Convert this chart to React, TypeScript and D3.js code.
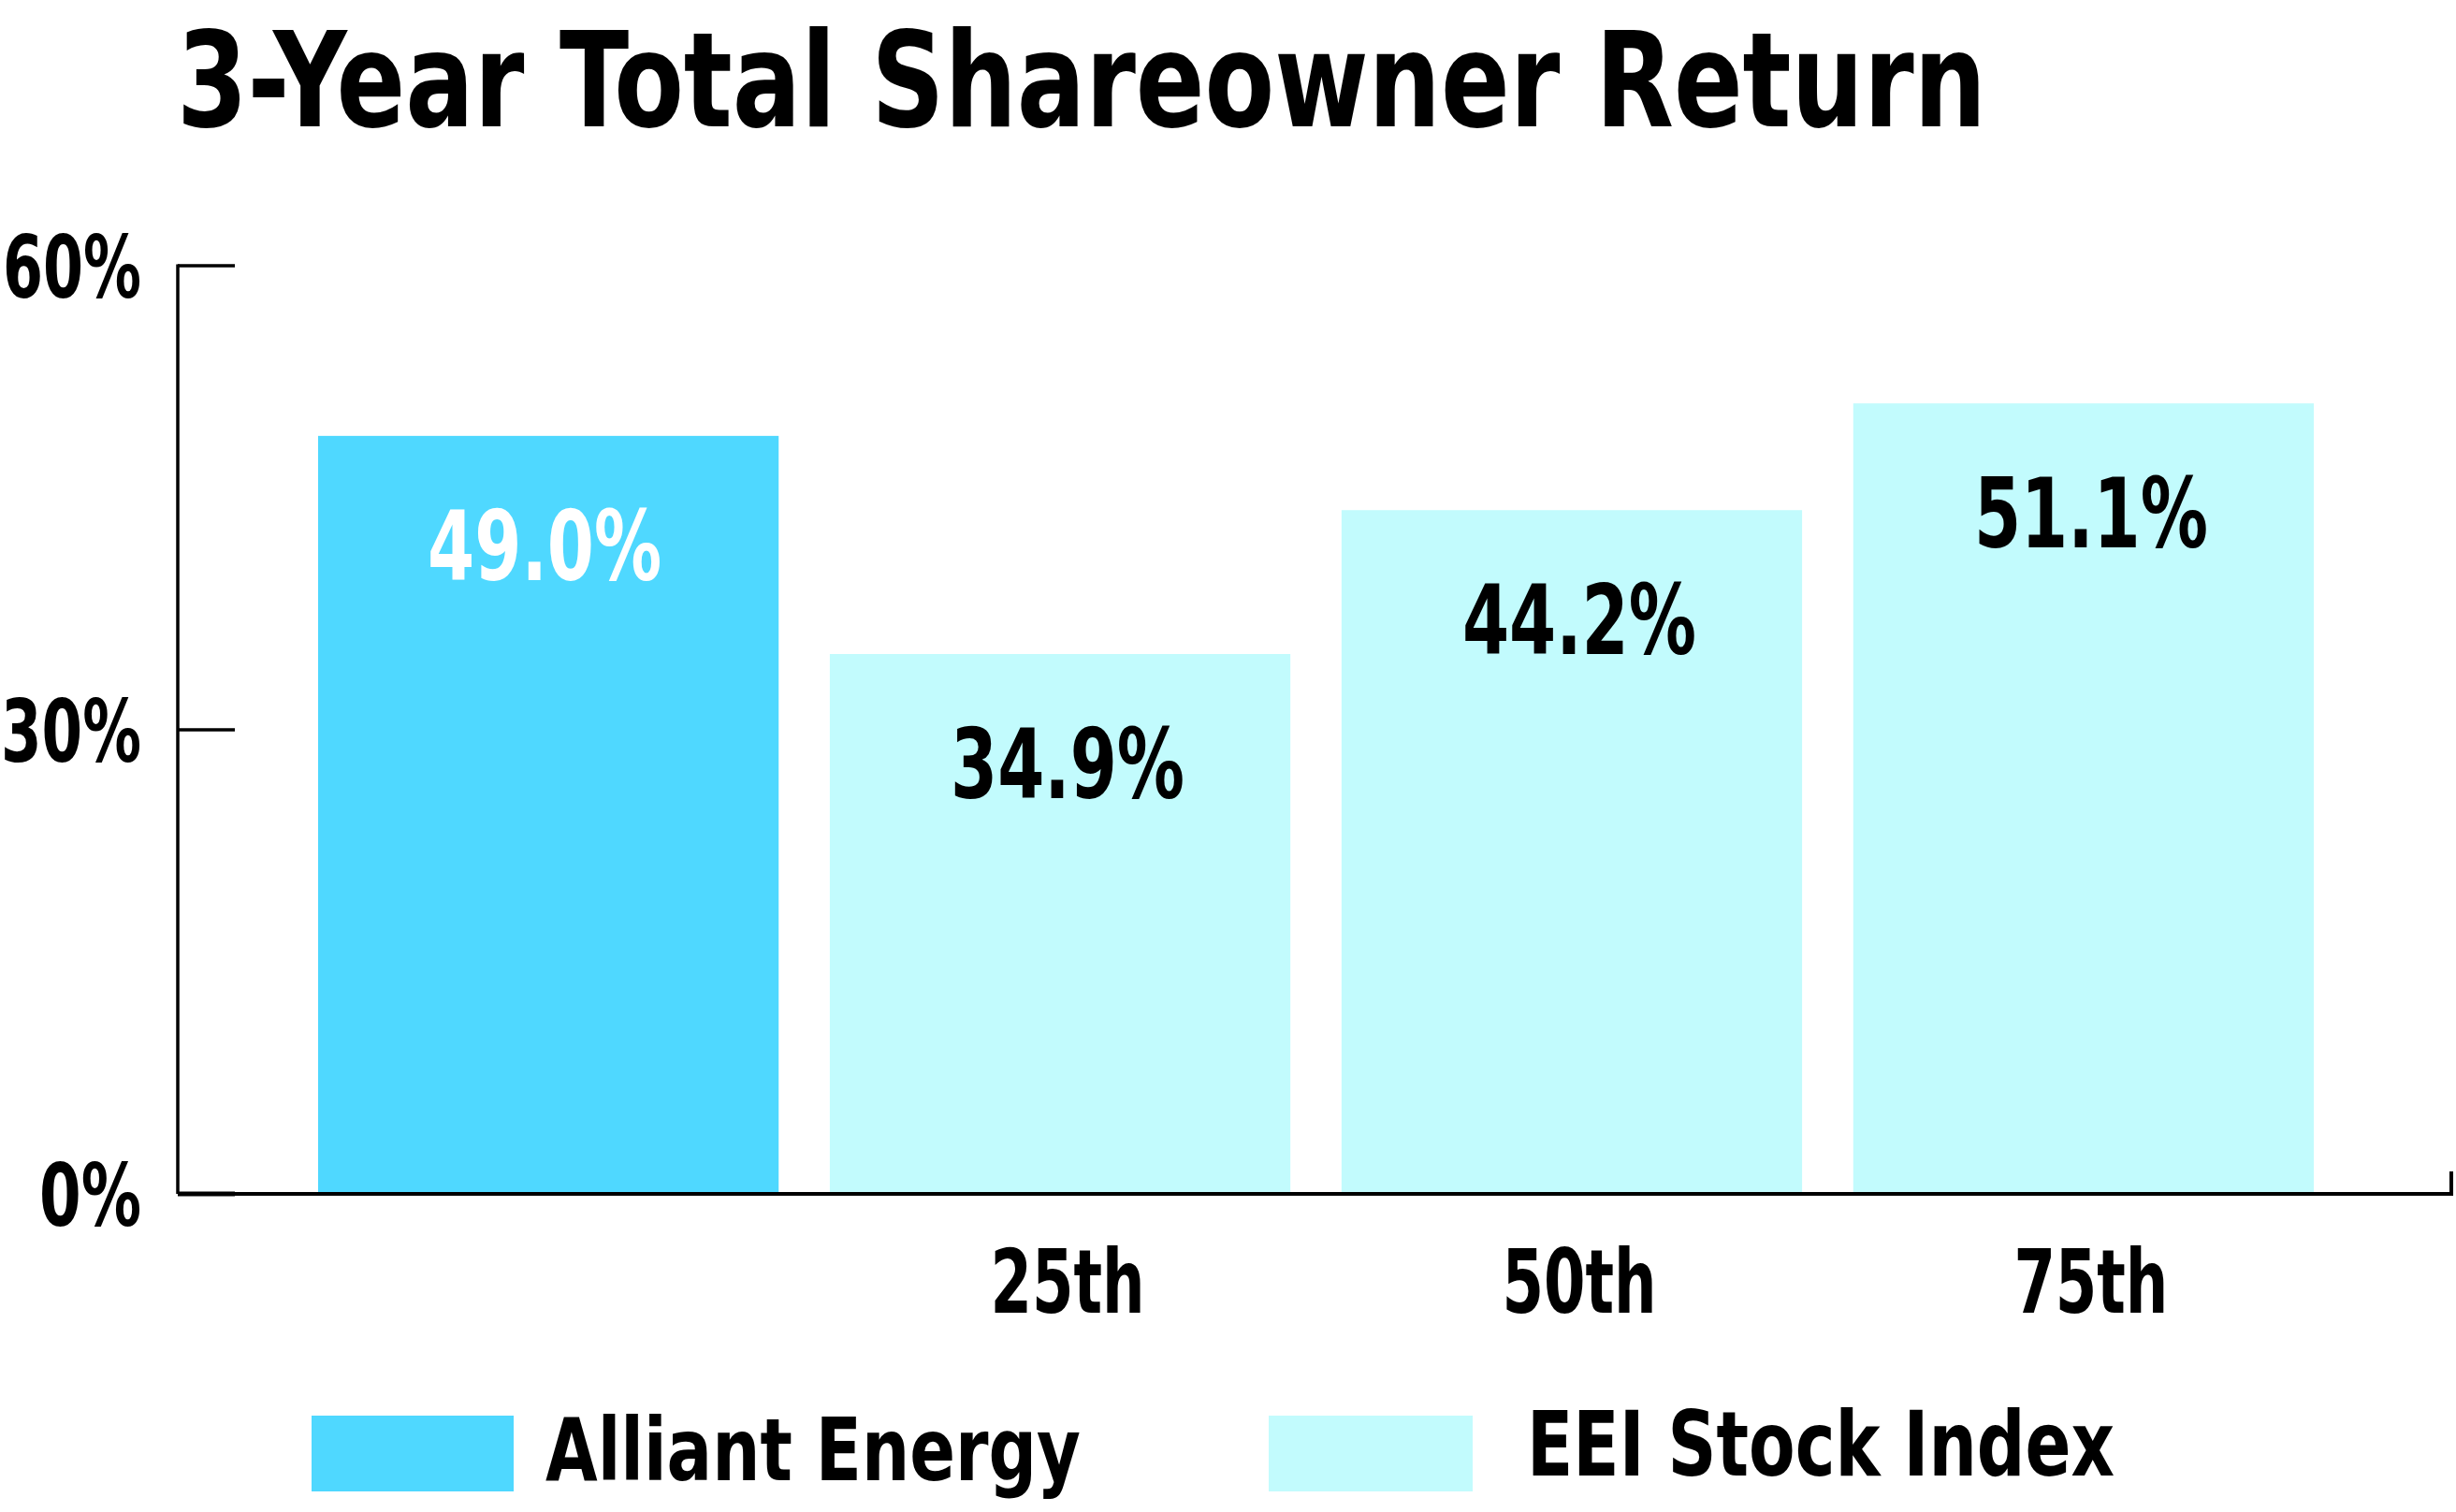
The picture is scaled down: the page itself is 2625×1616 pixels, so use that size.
import React from 'react';
import * as d3 from 'd3';

const categories = ['Alliant Energy', '25th', '50th', '75th'];
const values = [49.0, 34.9, 44.2, 51.1];
const valueLabels = ['49.0%', '34.9%', '44.2%', '51.1%'];
const xLabels = ['', '25th', '50th', '75th'];
const yTicks = [0, 30, 60];
const legendItems = ['Alliant Energy', 'EEI Stock Index'];

const FONT = "'Liberation Sans Narrow', 'DejaVu Sans Condensed', 'Liberation Sans', Arial, sans-serif";
const ALLIANT = '#4fd8ff';
const EEI = '#c2fbfd';

const App: React.FC = () => {
    const width = 2625;
    const height = 1616;
    const axisX = 190;
    const axisRight = 2620;

    const x = d3.scaleBand<string>()
        .domain(categories)
        .range([340, 2473])
        .paddingInner(0.1)
        .paddingOuter(0);

    const y = d3.scaleLinear().domain([0, 60]).range([1276, 284]);

    const tickLabelWidths: Record<number, number> = { 0: 109, 30: 150, 60: 148 };

    return (
        <svg width={width} height={height} style={{ position: 'absolute', left: 0, top: 0, background: '#fff' }}
            fontFamily={FONT} fontWeight="bold" fontStretch="condensed">
            <text x={189} y={135} fontSize={140} textLength={1934} lengthAdjust="spacingAndGlyphs" fill="#000">
                3-Year Total Shareowner Return
            </text>

            {/* bars */}
            {categories.map((c, i) => (
                <rect key={c} x={x(c)} y={y(values[i])} width={x.bandwidth()} height={y(0) - y(values[i])}
                    fill={i === 0 ? ALLIANT : EEI} />
            ))}

            {/* value labels */}
            {categories.map((c, i) => (
                <text key={'v' + c} x={(x(c) as number) + x.bandwidth() / 2 + (i === 0 ? -4 : 8)} y={y(values[i]) + 154}
                    fontSize={104} textAnchor="middle" textLength={250} lengthAdjust="spacingAndGlyphs"
                    fill={i === 0 ? '#fff' : '#000'}>
                    {valueLabels[i]}
                </text>
            ))}

            {/* axes */}
            <line x1={axisX} x2={axisX} y1={y(60) - 1.5} y2={y(0)} stroke="#000" strokeWidth={3.5} />
            <line x1={axisX} x2={axisRight} y1={y(0)} y2={y(0)} stroke="#000" strokeWidth={4} />
            <line x1={axisRight} x2={axisRight} y1={y(0) + 2} y2={y(0) - 24} stroke="#000" strokeWidth={4} />
            {yTicks.map(t => (
                <g key={t}>
                    <line x1={axisX} x2={251} y1={y(t)} y2={y(t)} stroke="#000" strokeWidth={t === 0 ? 5 : 3.5} />
                    <text x={151} y={y(t) + 34} fontSize={92} textAnchor="end"
                        textLength={tickLabelWidths[t]} lengthAdjust="spacingAndGlyphs" fill="#000">
                        {`${t}%`}
                    </text>
                </g>
            ))}

            {/* x labels */}
            {categories.map((c, i) => xLabels[i] ? (
                <text key={'x' + c} x={(x(c) as number) + x.bandwidth() / 2 + 8} y={1403}
                    fontSize={95} textAnchor="middle" textLength={165} lengthAdjust="spacingAndGlyphs" fill="#000">
                    {xLabels[i]}
                </text>
            ) : null)}

            {/* legend */}
            <rect x={333} y={1513} width={216} height={81} fill={ALLIANT} />
            <text x={583} y={1582} fontSize={92} textLength={572} lengthAdjust="spacingAndGlyphs" fill="#000">
                {legendItems[0]}
            </text>
            <rect x={1356} y={1513} width={218} height={81} fill={EEI} />
            <text x={1632} y={1577} fontSize={96} textLength={628} lengthAdjust="spacingAndGlyphs" fill="#000">
                {legendItems[1]}
            </text>
        </svg>
    );
};

export default App;
